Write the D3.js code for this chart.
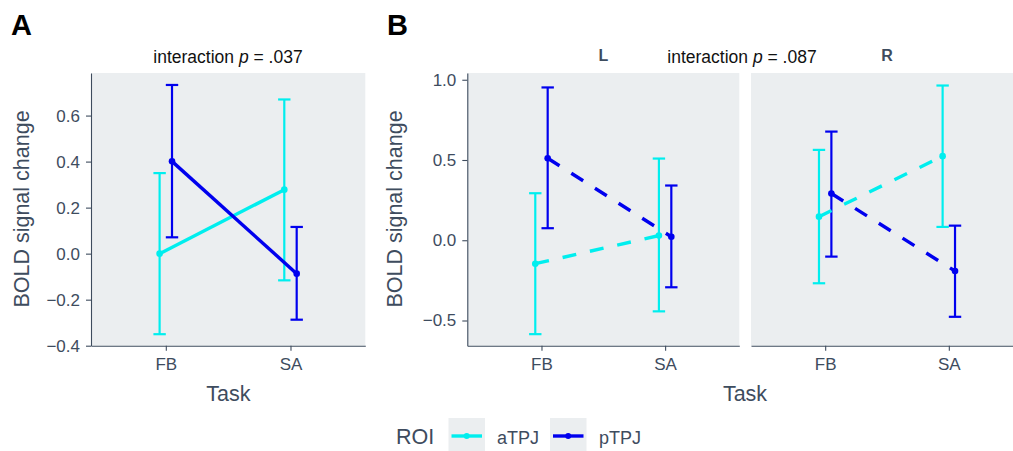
<!DOCTYPE html>
<html>
<head>
<meta charset="utf-8">
<script src="https://cdn.jsdelivr.net/npm/d3@7"></script>
<style>
  body { margin: 0; background: #fff; }
  text { font-family: "Liberation Sans", Arial, sans-serif; }
</style>
</head>
<body>
<div id="chart"></div>
<script>
var width = 1013;
var height = 451;

var tasks = ["FB", "SA"];
var rois = ["aTPJ", "pTPJ"];
var roiColors = ["#00eeee", "#0000ee"];

// panel A (rows: aTPJ, pTPJ; columns: FB, SA)
var meanA = [[0.0, 0.278], [0.401, -0.087]];
var lowA = [[-0.35, -0.116], [0.071, -0.287]];
var highA = [[0.35, 0.67], [0.733, 0.116]];

// panel B, left hemisphere
var meanL = [[-0.146, 0.029], [0.511, 0.022]];
var lowL = [[-0.585, -0.443], [0.075, -0.293]];
var highL = [[0.293, 0.509], [0.952, 0.341]];

// panel B, right hemisphere
var meanR = [[0.147, 0.524], [0.291, -0.192]];
var lowR = [[-0.268, 0.083], [-0.102, -0.477]];
var highR = [[0.563, 0.964], [0.677, 0.091]];

var yTicksA = [-0.4, -0.2, 0, 0.2, 0.4, 0.6];
var yTicksB = [-0.5, 0, 0.5, 1.0];

var slate = "#3e4c5e";
var panelFill = "#ebeef0";

var svg = d3
  .select("#chart")
  .append("svg")
  .attr("width", width)
  .attr("height", height);

function rows(mean, low, high) {
  var out = [];
  rois.forEach(function(r, i) {
    tasks.forEach(function(t, j) {
      out.push({ roi: r, task: t, m: mean[i][j], lo: low[i][j], hi: high[i][j] });
    });
  });
  return out;
}

function drawPanel(o) {
  var g = svg.append("g");
  var top = 73, bottom = 345.7;

  g.append("rect")
    .attr("x", o.x0)
    .attr("y", top)
    .attr("width", o.x1 - o.x0)
    .attr("height", bottom - top)
    .attr("fill", panelFill);

  var x = d3.scalePoint().domain(tasks).range([o.x0, o.x1]).padding(0.6);
  var dodge = d3.scalePoint().domain(rois).range([-6.2, 6.2]);
  var y = d3.scaleLinear().domain(o.yDomain).range([bottom, top]);
  var color = d3.scaleOrdinal().domain(rois).range(roiColors);
  var px = function(d) { return x(d.task) + dodge(d.roi); };

  var xAxis = g.append("g")
    .attr("transform", "translate(0," + bottom + ")")
    .call(d3.axisBottom(x).tickSize(5).tickSizeOuter(0).tickPadding(7));
  styleAxis(xAxis);

  if (o.yAxis) {
    var yAxis = g.append("g")
      .attr("transform", "translate(" + o.x0 + ",0)")
      .call(d3.axisLeft(y).tickValues(o.yTicks).tickFormat(d3.format(".1f"))
        .tickSize(5).tickSizeOuter(0).tickPadding(6));
    styleAxis(yAxis);
  }

  var data = o.data;

  // error bars
  var eb = g.selectAll(".eb").data(data).enter().append("g").attr("class", "eb")
    .attr("stroke", function(d) { return color(d.roi); })
    .attr("stroke-width", 2.2);
  eb.append("line")
    .attr("x1", px).attr("x2", px)
    .attr("y1", function(d) { return y(d.lo); })
    .attr("y2", function(d) { return y(d.hi); });
  eb.append("line")
    .attr("x1", function(d) { return px(d) - 6.2; })
    .attr("x2", function(d) { return px(d) + 6.2; })
    .attr("y1", function(d) { return y(d.lo); })
    .attr("y2", function(d) { return y(d.lo); });
  eb.append("line")
    .attr("x1", function(d) { return px(d) - 6.2; })
    .attr("x2", function(d) { return px(d) + 6.2; })
    .attr("y1", function(d) { return y(d.hi); })
    .attr("y2", function(d) { return y(d.hi); });

  // lines
  var line = d3.line().x(px).y(function(d) { return y(d.m); });
  rois.forEach(function(r) {
    g.append("path")
      .datum(data.filter(function(d) { return d.roi === r; }))
      .attr("d", line)
      .attr("fill", "none")
      .attr("stroke", color(r))
      .attr("stroke-width", 3.4)
      .attr("stroke-dasharray", o.dashed ? "14,14" : null);
  });

  // points
  g.selectAll(".pt").data(data).enter().append("circle")
    .attr("class", "pt")
    .attr("cx", px)
    .attr("cy", function(d) { return y(d.m); })
    .attr("r", 3.3)
    .attr("fill", function(d) { return color(d.roi); });

  if (o.strip) {
    svg.append("text").attr("x", (o.x0 + o.x1) / 2).attr("y", 61)
      .attr("text-anchor", "middle").text(o.strip)
      .attr("fill", slate).style("font-size", "16px").style("font-weight", "bold");
  }
}

function styleAxis(a) {
  a.select(".domain").attr("stroke", slate).attr("stroke-width", 1.1);
  a.selectAll(".tick line").attr("stroke", slate).attr("stroke-width", 1.1);
  a.selectAll(".tick text")
    .attr("fill", slate)
    .style("font-size", "17px")
    .style("font-family", "'Liberation Sans', Arial, sans-serif");
}

drawPanel({ x0: 91, x1: 365.3, yDomain: [-0.4, 0.785], yTicks: yTicksA,
  data: rows(meanA, lowA, highA), dashed: false, yAxis: true });
drawPanel({ x0: 467.3, x1: 739.3, yDomain: [-0.657, 1.042], yTicks: yTicksB,
  data: rows(meanL, lowL, highL), dashed: true, yAxis: true, strip: "L" });
drawPanel({ x0: 751, x1: 1023, yDomain: [-0.657, 1.042], yTicks: yTicksB,
  data: rows(meanR, lowR, highR), dashed: true, yAxis: false, strip: "R" });

// panel letters
svg.append("text").attr("x", 11).attr("y", 35).text("A")
  .style("font-size", "29px").style("font-weight", "bold").attr("fill", "#000");
svg.append("text").attr("x", 387).attr("y", 35).text("B")
  .style("font-size", "29px").style("font-weight", "bold").attr("fill", "#000");

// titles
function title(cx, pval) {
  var t = svg.append("text").attr("x", cx).attr("y", 62.5)
    .attr("text-anchor", "middle").attr("fill", "#111").style("font-size", "17.5px");
  t.append("tspan").text("interaction ");
  t.append("tspan").text("p").style("font-style", "italic");
  t.append("tspan").text(" = " + pval);
}
title(228, ".037");
title(742, ".087");

// axis titles
svg.append("text").attr("transform", "translate(28.5,209) rotate(-90)")
  .attr("text-anchor", "middle").text("BOLD signal change")
  .attr("fill", slate).style("font-size", "21.5px");
svg.append("text").attr("transform", "translate(402,209) rotate(-90)")
  .attr("text-anchor", "middle").text("BOLD signal change")
  .attr("fill", slate).style("font-size", "21.5px");
svg.append("text").attr("x", 228.3).attr("y", 401).attr("text-anchor", "middle")
  .text("Task").attr("fill", slate).style("font-size", "21.5px");
svg.append("text").attr("x", 745).attr("y", 401).attr("text-anchor", "middle")
  .text("Task").attr("fill", slate).style("font-size", "21.5px");

// legend
svg.append("text").attr("x", 396).attr("y", 444).text("ROI")
  .attr("fill", slate).style("font-size", "21.5px");
var keyX = [448.5, 550];
var labX = [497, 599];
rois.forEach(function(r, i) {
  var k = svg.append("g").attr("transform", "translate(" + keyX[i] + ",418)");
  k.append("rect").attr("width", 36.5).attr("height", 34).attr("fill", panelFill);
  k.append("line").attr("x1", 3).attr("x2", 33.5).attr("y1", 18).attr("y2", 18)
    .attr("stroke", roiColors[i]).attr("stroke-width", 3.4);
  k.append("circle").attr("cx", 18.2).attr("cy", 18).attr("r", 3).attr("fill", roiColors[i]);
  svg.append("text").attr("x", labX[i]).attr("y", 444).text(r)
    .attr("fill", slate).style("font-size", "18px");
});
</script>
</body>
</html>
